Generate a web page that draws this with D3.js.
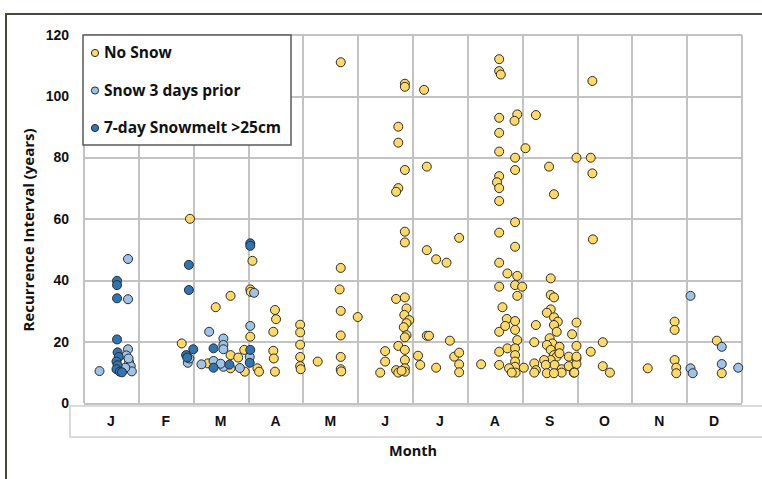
<!DOCTYPE html>
<meta charset="utf-8">
<style>
body { margin: 0; background: #fff; }
svg { display: block; font-family: "Open Sans", sans-serif; font-weight: bold; }
.grid line { stroke: #c3c3c3; stroke-width: 2px; shape-rendering: crispEdges; }
.grid path { display: none; }
.axis path, .axis line { display: none; }
.axis text { font-size: 14px; fill: #111; font-weight: bold; }
.dot { stroke: #2b2b2b; stroke-width: 1px; }
</style>
<body>
<div id="chart"></div>
<script src="https://cdn.jsdelivr.net/npm/d3@7"></script>
<script>
// month labels and y ticks
var months = ["J", "F", "M", "A", "M", "J", "J", "A", "S", "O", "N", "D"];
var yTicks = [0, 20, 40, 60, 80, 100, 120];

// [month position (0 = start of Jan), recurrence interval in years]
var noSnow = [
    [1.79, 19.4], [1.94, 60],
    [2.27, 12.9], [2.41, 31.2], [2.68, 34.9], [2.68, 15.6], [2.82, 14.8], [2.68, 11.3], [2.93, 17.3], [2.94, 10.2],
    [3.08, 46.3], [3.04, 37], [3.05, 36.2], [3.04, 21.6], [3.17, 11.3], [3.20, 10.2],
    [3.49, 30.3], [3.51, 27.3], [3.46, 23.2], [3.46, 17], [3.47, 14.5], [3.49, 10.2],
    [3.95, 25.5], [3.95, 23], [3.95, 19], [3.95, 15], [3.95, 12], [3.96, 11], [4.27, 13.5],
    [4.69, 111], [4.69, 44], [4.67, 37], [4.69, 30], [4.69, 22], [4.69, 15], [4.69, 11], [4.70, 10.3], [5.00, 28],
    [5.41, 9.9], [5.50, 16.9], [5.50, 13.5], [5.70, 33.9], [5.74, 18.6], [5.70, 10.7], [5.74, 9.9],
    [5.74, 70], [5.70, 68.8], [5.74, 90], [5.74, 84.8], [5.86, 104], [5.86, 103], [5.86, 75.9],
    [5.86, 55.8], [5.86, 52.3], [5.86, 34.4], [5.89, 30.8], [5.85, 28.7], [5.94, 27], [5.89, 26],
    [5.84, 24.7], [5.89, 22.1], [5.86, 21.4], [5.86, 17.3], [5.86, 14], [5.86, 11.3], [5.86, 10.2], [5.80, 10.5],
    [6.21, 102], [6.26, 77], [6.26, 49.8], [6.43, 46.8], [6.62, 45.7], [6.85, 53.8], [6.26, 21.9],
    [6.30, 21.9], [6.68, 20.3], [6.10, 15.4], [6.14, 12.4], [6.43, 11.5], [6.76, 15.1], [6.85, 16.4],
    [6.85, 12.6], [6.85, 10],
    [7.25, 12.6], [7.58, 112], [7.58, 108.1], [7.61, 107], [7.58, 92.9], [7.58, 88], [7.58, 81.9],
    [7.58, 73.9], [7.54, 71.9], [7.58, 70], [7.58, 65.8], [7.58, 55.5], [7.58, 45.7], [7.58, 37.9],
    [7.58, 23.2], [7.58, 16.7], [7.58, 12.4], [7.91, 94], [7.86, 91.9], [7.87, 79.9], [7.87, 75.9],
    [7.87, 58.9], [7.87, 50.9], [7.73, 42.2], [7.91, 41.4], [7.87, 38.4], [8.00, 37.9], [7.91, 34.9],
    [7.64, 31.2], [7.72, 27.4], [7.87, 26.7], [7.69, 25.1], [7.87, 23.8], [7.91, 20.5], [7.73, 17.8],
    [7.87, 17.8], [7.87, 15.6], [7.87, 13.5], [7.87, 11.8], [7.88, 9.9], [7.76, 11.3], [7.81, 9.9],
    [8.03, 11.5], [8.06, 83],
    [8.25, 93.8], [8.49, 77], [8.58, 68], [8.52, 40.6], [8.52, 35.2], [8.58, 34.4], [8.52, 30.5],
    [8.45, 29.4], [8.58, 27.9], [8.65, 26.5], [8.58, 25.4], [8.25, 25.4], [8.63, 23.2], [8.99, 26.2],
    [8.91, 22.4], [8.22, 19.8], [8.50, 21.1], [8.55, 19.4], [8.45, 18.9], [8.99, 18.6], [8.68, 18.3],
    [8.52, 17.3], [8.58, 15.6], [8.63, 15.1], [8.68, 16.2], [8.52, 14], [8.59, 12.4], [8.72, 11],
    [8.85, 15.1], [8.85, 12], [8.99, 14.5], [8.99, 12.7], [8.94, 9.9], [8.72, 9.9], [8.22, 12.9],
    [8.25, 10.7], [8.22, 9.9], [8.40, 14], [8.43, 12.4], [8.45, 9.7], [8.58, 9.7], [8.99, 15.1], [8.95, 9.9],
    [9.28, 104.9], [8.99, 79.9], [9.25, 79.9], [9.28, 74.8], [9.29, 53.3], [9.47, 19.8], [9.25, 16.7],
    [9.47, 12], [9.60, 9.9],
    [10.29, 11.3], [10.78, 26.5], [10.78, 23.8], [10.78, 14], [10.81, 11.5], [10.81, 9.7],
    [11.55, 20.3], [11.64, 9.7]
];
var snowPrior = [
    [0.29, 10.4], [0.81, 46.9], [0.81, 33.8], [0.81, 17.5], [0.78, 15.5], [0.83, 13.2], [0.86, 12],
    [0.88, 10.3], [0.76, 11.5], [0.82, 14.5],
    [1.90, 13.1], [1.93, 14.5],
    [2.15, 12.6], [2.29, 23.2], [2.37, 13.7], [2.55, 21], [2.55, 18.9], [2.55, 17.5], [2.55, 11.8],
    [2.85, 11.4], [2.50, 12.8],
    [3.11, 35.9], [3.04, 25.1], [3.03, 15],
    [11.07, 34.9], [11.64, 18.3], [11.07, 11.3], [11.11, 9.7], [11.64, 12.7], [11.94, 11.5]
];
var snowmelt = [
    [0.61, 39.8], [0.61, 38.4], [0.61, 34.1], [0.61, 20.7], [0.62, 16.5], [0.64, 15], [0.60, 13.5],
    [0.62, 12.3], [0.60, 11], [0.66, 10.2], [0.70, 10],
    [1.92, 45], [1.92, 36.8], [2.00, 17.5], [1.87, 15.6], [1.89, 14.8],
    [2.37, 17.8], [2.37, 11.5], [2.66, 12.5],
    [3.04, 52], [3.04, 51.2], [3.04, 17.3], [3.03, 13.1]
];

var series = [
    { name: "No Snow", color: "#ffd966", data: noSnow },
    { name: "Snow 3 days prior", color: "#9dc3e6", data: snowPrior },
    { name: "7-day Snowmelt >25cm", color: "#2e75b6", data: snowmelt }
];

var W = 762, H = 479,
    plotL = 83.6, plotR = 741.5, plotT = 34.6, plotB = 403;

var svg = d3.select("#chart").append("svg")
    .attr("width", W)
    .attr("height", H);

// outer frame
svg.append("rect")
    .attr("x", 6).attr("y", 14)
    .attr("width", W + 20).attr("height", H + 20)
    .attr("fill", "#fff")
    .attr("stroke", "#4a4a3c")
    .attr("stroke-width", 2);

var x = d3.scaleLinear().domain([0, 12]).range([plotL, plotR]);
var y = d3.scaleLinear().domain([0, 120]).range([plotB, plotT]);
var xBand = d3.scaleBand().domain(d3.range(12)).range([plotL, plotR]);

// category box below plot
svg.append("rect")
    .attr("x", 70).attr("y", 406)
    .attr("width", 720).attr("height", 31)
    .attr("fill", "#fff")
    .attr("stroke", "#cfcfcf")
    .attr("stroke-width", 1.5);

// grid
svg.append("g")
    .attr("class", "grid")
    .attr("transform", "translate(" + plotL + ",0)")
    .call(d3.axisLeft(y).tickValues(yTicks).tickSize(-(plotR - plotL)).tickFormat(""));

svg.append("g")
    .attr("class", "grid")
    .attr("transform", "translate(0," + plotB + ")")
    .call(d3.axisBottom(x).tickValues(d3.range(13)).tickSize(-(plotB - plotT)).tickFormat(""));

// y tick labels
svg.append("g")
    .attr("class", "axis")
    .attr("transform", "translate(70,0)")
    .call(d3.axisLeft(y).tickValues(yTicks).tickSize(0).tickPadding(1));

// month labels
svg.append("g")
    .attr("class", "axis")
    .attr("transform", "translate(0,413)")
    .call(d3.axisBottom(xBand).tickSize(0).tickFormat(function(d) { return months[d]; }));

// points
series.forEach(function(s) {
    svg.append("g").selectAll("circle")
        .data(s.data)
        .enter().append("circle")
        .attr("class", "dot")
        .attr("cx", function(d) { return x(d[0]); })
        .attr("cy", function(d) { return y(d[1]); })
        .attr("r", 4.5)
        .attr("fill", s.color);
});

// axis titles
svg.append("text")
    .attr("x", 413).attr("y", 456)
    .attr("text-anchor", "middle")
    .attr("font-size", 14.5)
    .attr("fill", "#111")
    .text("Month");

svg.append("text")
    .attr("transform", "translate(34,230) rotate(-90)")
    .attr("text-anchor", "middle")
    .attr("font-size", 15)
    .attr("fill", "#111")
    .text("Recurrence Interval (years)");

// legend
var legend = svg.append("g");
legend.append("rect")
    .attr("x", 83).attr("y", 35)
    .attr("width", 208).attr("height", 110)
    .attr("fill", "#fff")
    .attr("stroke", "#5a5a5a")
    .attr("stroke-width", 1.5);

var item = legend.selectAll(".legend")
    .data(series)
    .enter().append("g")
    .attr("class", "legend")
    .attr("transform", function(d, i) { return "translate(0," + (53 + i * 37.5) + ")"; });

item.append("circle")
    .attr("class", "dot")
    .attr("cx", 95)
    .attr("r", 3.6)
    .attr("fill", function(d) { return d.color; });

item.append("text")
    .attr("x", 104)
    .attr("dy", "0.35em")
    .attr("font-size", 15.5)
    .attr("fill", "#111")
    .text(function(d) { return d.name; });
</script>
</body>
